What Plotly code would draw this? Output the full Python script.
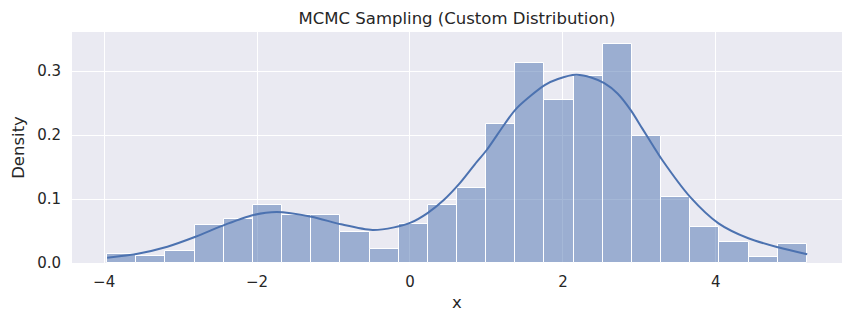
import numpy as np
import plotly.graph_objects as go

# Histogram (density)
bin_start = -3.96
bin_end = 5.19
n_bins = 24
density = [0.0145, 0.011, 0.019, 0.060, 0.068, 0.091, 0.0755, 0.0755, 0.049,
           0.022, 0.0615, 0.091, 0.117, 0.217, 0.313, 0.255, 0.293, 0.343,
           0.198, 0.103, 0.056, 0.033, 0.0094, 0.030]

# KDE curve points
kde_x = [-3.961, -3.562, -3.173, -2.805, -2.416, -2.048, -1.744, -1.290, -0.900,
         -0.490, -0.208, 0.009, 0.225, 0.442, 0.658, 0.874, 1.004, 1.243, 1.394,
         1.762, 1.935, 2.173, 2.368, 2.541, 2.714, 2.887, 3.039, 3.191, 3.299,
         3.666, 4.035, 4.425, 4.814, 5.195]
kde_y = [0.0083, 0.0146, 0.0255, 0.041, 0.060, 0.075, 0.0797, 0.0724, 0.0604,
         0.0516, 0.0557, 0.063, 0.0776, 0.0984, 0.1255, 0.158, 0.1766, 0.218, 0.2417,
         0.278, 0.2875, 0.294, 0.290, 0.281, 0.265, 0.239, 0.210, 0.181, 0.161,
         0.103, 0.062, 0.0386, 0.0245, 0.0136]

x_ticks = [-4, -2, 0, 2, 4]
y_ticks = [0.0, 0.1, 0.2, 0.3]

edges = np.linspace(bin_start, bin_end, n_bins + 1)
centers = (edges[:-1] + edges[1:]) / 2
width = edges[1] - edges[0]

text_col = "#262626"
fig = go.Figure()
fig.add_trace(go.Bar(
    x=centers, y=density, width=width,
    marker=dict(color="rgba(76,114,176,0.5)", line=dict(color="white", width=1)),
    hoverinfo="skip", showlegend=False,
))
fig.add_trace(go.Scatter(
    x=kde_x, y=kde_y, mode="lines",
    line=dict(color="#4c72b0", width=2, shape="spline", smoothing=0.8),
    showlegend=False,
))

fig.update_layout(
    width=855, height=325,
    margin=dict(l=72, r=13, t=32, b=62),
    paper_bgcolor="white", plot_bgcolor="#eaeaf2",
    font=dict(family="DejaVu Sans", color=text_col, size=15),
    bargap=0,
    title=dict(text="MCMC Sampling (Custom Distribution)", x=0.5, xanchor="center",
               xref="paper", y=1 - 18 / 325, yanchor="middle", yref="container",
               font=dict(size=16.5, color=text_col)),
)
fig.update_xaxes(
    range=[-4.42, 5.65], tickvals=x_ticks, ticktext=["\u22124", "\u22122", "0", "2", "4"],
    showgrid=True, gridcolor="white", gridwidth=1.4, zeroline=False,
    showline=False, ticks="", ticklabelstandoff=8,
    title=dict(text="x", font=dict(size=16.5, color=text_col), standoff=6),
)
fig.update_yaxes(
    range=[0, 0.361], tickvals=y_ticks, ticktext=["0.0", "0.1", "0.2", "0.3"],
    showgrid=True, gridcolor="white", gridwidth=1.4, zeroline=False,
    showline=False, ticks="", ticklabelstandoff=10,
    title=dict(text="Density", font=dict(size=16.5, color=text_col), standoff=8),
)

fig.write_html("out.html")
